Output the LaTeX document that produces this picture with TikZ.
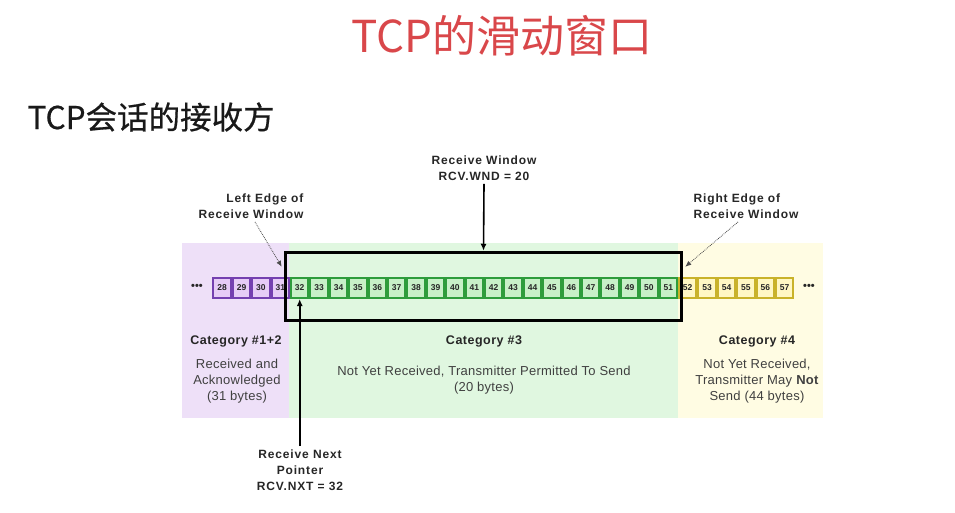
\documentclass[tikz,border=0pt]{standalone}
\usepackage{fontspec}
\setmainfont{Liberation Sans}
\newfontfamily\cjk{Noto Sans CJK SC}
\newfontfamily\cjkmed[FakeBold=0.6]{Noto Sans CJK SC}
\usepackage{xcolor}
\usetikzlibrary{positioning, arrows.meta}

\definecolor{titlered}{HTML}{D9474A}
\definecolor{bgpurple}{HTML}{EEE0F8}
\definecolor{bggreen}{HTML}{E0F7E0}
\definecolor{bgyellow}{HTML}{FFFCE3}
\definecolor{linepurple}{HTML}{7440B0}
\definecolor{fillpurple}{HTML}{E6CCF6}
\definecolor{linegreen}{HTML}{2E9C3C}
\definecolor{fillgreen}{HTML}{C8F0C8}
\definecolor{lineyellow}{HTML}{C9B22A}
\definecolor{fillyellow}{HTML}{FFF7C4}

\begin{document}
\begin{tikzpicture}[
      x=1pt, y=-1pt,
      every node/.style={align=center, text=black!85},
      cellbox/.style={draw, line width=2pt, minimum width=17.4pt, minimum height=20pt, inner sep=0pt, font=\fontsize{8.5}{9}\selectfont\bfseries},
      purplecell/.style={cellbox, draw=linepurple, fill=fillpurple},
      greencell/.style={cellbox, draw=linegreen, fill=fillgreen},
      yellowcell/.style={cellbox, draw=lineyellow, fill=fillyellow},
      label/.style={font=\fontsize{12}{16}\selectfont\bfseries\addfontfeature{LetterSpace=7}},
      cathead/.style={font=\fontsize{12.5}{16}\selectfont\bfseries\addfontfeature{LetterSpace=4}},
      catbody/.style={font=\fontsize{13}{16}\selectfont\addfontfeature{LetterSpace=2}, text=black!75}
    ]
    \useasboundingbox (0,0) rectangle (955,512);

    % titles
    \node[font=\cjk\fontsize{44}{44}\selectfont, text=titlered] (title) at (502,36) {TCP的滑动窗口};
    \node[font=\cjkmed\fontsize{31.5}{32}\selectfont, anchor=west, text=black!90] (subtitle) at (24,117) {TCP会话的接收方};

    % category backgrounds
    \fill[bgpurple] (182,243) rectangle (289,418);
    \fill[bggreen] (289,243) rectangle (678,418);
    \fill[bgyellow] (678,243) rectangle (823,418);

    % byte cells
    \foreach \n in {28,...,57}{
      \ifnum\n<32 \def\cellstyle{purplecell}\else\ifnum\n<52 \def\cellstyle{greencell}\else\def\cellstyle{yellowcell}\fi\fi
      \node[\cellstyle] (c\n) at ({222.1+19.4*(\n-28)},288) {\n};
    }
    \node[font=\fontsize{11}{11}\selectfont\bfseries] (dotsl) at (197,287) {•••};
    \node[font=\fontsize{11}{11}\selectfont\bfseries] (dotsr) at (809,287) {•••};

    % receive window
    \node[draw, line width=3.5pt, minimum width=396pt, minimum height=68pt, inner sep=0pt] (window) at (483.5,286.5) {};

    \node[label] (rwnd) at (484,168) {Receive Window\\RCV.WND = 20};
    \node[label, align=right] (ledge) at (251,206) {Left Edge of\\Receive Window};
    \node[label, align=left] (redge) at (746,206) {Right Edge of\\Receive Window};
    \node[label] (rnxt) at (300,470) {Receive Next\\Pointer\\RCV.NXT = 32};

    \draw[-{Latex[length=7pt,width=6pt]}, line width=1.6pt] (rwnd.south) -- (window.north);
    \draw[-{Latex[length=7pt,width=6pt]}, line width=1.6pt] (rnxt.north -| c32) -- (c32.south);
    \draw[-{Latex[length=6pt,width=5pt]}, densely dotted, thick, black!70] ([xshift=4pt]ledge.south) -- ([xshift=-2pt,yshift=-16pt]window.north west);
    \draw[-{Latex[length=6pt,width=5pt]}, densely dotted, thick, black!70] ([xshift=-8pt]redge.south) -- ([xshift=2pt,yshift=-16pt]window.north east);

    % categories
    \node[cathead] (cat12) at (236,341) {Category \#1+2};
    \node[catbody] (cat12txt) at (237,381) {Received and\\Acknowledged\\(31 bytes)};
    \node[cathead] (cat3) at (484,341) {Category \#3};
    \node[catbody] (cat3txt) at (484,380) {Not Yet Received, Transmitter Permitted To Send\\(20 bytes)};
    \node[cathead] (cat4) at (757,341) {Category \#4};
    \node[catbody] (cat4txt) at (757,381) {Not Yet Received,\\Transmitter May \textbf{Not}\\Send (44 bytes)};
  \end{tikzpicture}
\end{document}
